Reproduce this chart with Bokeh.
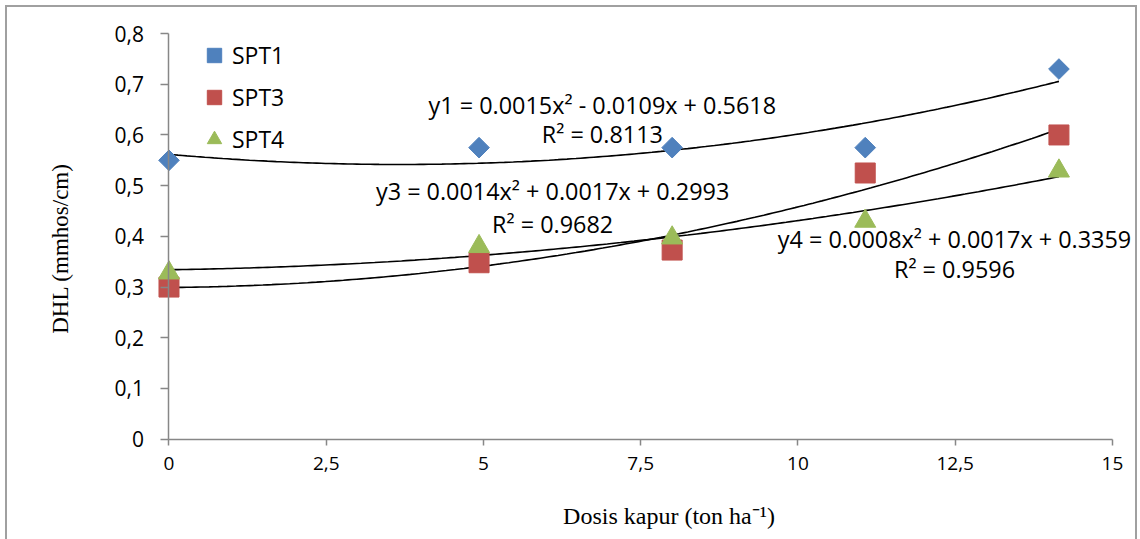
import numpy as np
from bokeh.plotting import figure
from bokeh.models import (Range1d, FixedTicker, CustomJSTickFormatter, Label,
                          Legend, LegendItem)
from bokeh.embed import file_html
from bokeh.resources import INLINE

# ---- data ----
dosis = [0, 4.93, 8.0, 11.07, 14.15]
spt1 = [0.55, 0.575, 0.575, 0.575, 0.73]
spt3 = [0.30, 0.348, 0.373, 0.525, 0.60]
spt4 = [0.328, 0.38, 0.397, 0.43, 0.529]
x_ticks = [0, 2.5, 5, 7.5, 10, 12.5, 15]
y_ticks = [0, 0.1, 0.2, 0.3, 0.4, 0.5, 0.6, 0.7, 0.8]
eq1 = ["y1 = 0.0015x\u00b2 - 0.0109x + 0.5618", "R\u00b2 = 0.8113"]
eq3 = ["y3 = 0.0014x\u00b2 + 0.0017x + 0.2993", "R\u00b2 = 0.9682"]
eq4 = ["y4 = 0.0008x\u00b2 + 0.0017x + 0.3359", "R\u00b2 = 0.9596"]
x_title = "Dosis kapur (ton ha\u207b\u00b9)"
y_title = "DHL (mmhos/cm)"

SANS = "Open Sans"
SERIF = "Liberation Serif"
AXIS_GRAY = "#878787"
FRAME_GRAY = "#a0a0a0"

p = figure(width=1132, height=534, output_backend="svg", toolbar_location=None,
           x_range=Range1d(-2.202, 15.415), y_range=Range1d(-0.184, 0.8198),
           min_border_left=23, min_border_right=1, min_border_top=16,
           min_border_bottom=9)
p.margin = (5, 0, 0, 5)
p.outline_line_color = None
p.xgrid.visible = False
p.ygrid.visible = False
p.background_fill_color = "white"
p.border_fill_color = "white"
p.styles = {"border-top": f"2px solid {FRAME_GRAY}",
            "border-left": f"2px solid {FRAME_GRAY}",
            "border-right": f"2px solid {FRAME_GRAY}",
            "box-sizing": "border-box"}

fmt = CustomJSTickFormatter(code="return tick.toFixed(1).replace('.', ',').replace(/,0$/, '');")

for ax in (p.xaxis[0], p.yaxis[0]):
    ax.formatter = fmt
    ax.axis_line_color = AXIS_GRAY
    ax.axis_line_width = 1.5
    ax.major_tick_line_color = AXIS_GRAY
    ax.major_tick_line_width = 1.5
    ax.minor_tick_line_color = None
    ax.major_tick_in = 0
    ax.major_label_text_font = SANS
    ax.major_label_text_color = "#000000"

p.xaxis[0].ticker = FixedTicker(ticks=x_ticks)
p.yaxis[0].ticker = FixedTicker(ticks=y_ticks)
p.xaxis[0].bounds = (0, 15)
p.yaxis[0].bounds = (0, 0.8)
p.xaxis[0].fixed_location = 0
p.yaxis[0].fixed_location = 0
p.xaxis[0].major_tick_out = 6
p.yaxis[0].major_tick_out = 8
p.xaxis[0].major_label_standoff = 12
p.yaxis[0].major_label_standoff = 17
p.xaxis[0].major_label_text_font_size = "19px"
p.yaxis[0].major_label_text_font_size = "21px"

# trendlines (quadratic least-squares fits of each series)
xs = np.linspace(0, max(dosis), 200)
for ys in (spt1, spt3, spt4):
    c = np.polyfit(dosis, ys, 2)
    p.line(xs, np.polyval(c, xs), line_color="black", line_width=1.6)

r1 = p.scatter(dosis, spt1, marker="square", size=14.6, angle=np.pi / 4,
               fill_color="#4F81BD", line_color="#4F81BD")
r3 = p.scatter(dosis, spt3, marker="square", size=20,
               fill_color="#C0504D", line_color="#C0504D")
r4 = p.scatter(dosis, spt4, marker="triangle", size=21,
               fill_color="#9BBB59", line_color="#9BBB59")

legend = Legend(items=[LegendItem(label="SPT1", renderers=[r1]),
                       LegendItem(label="SPT3", renderers=[r3]),
                       LegendItem(label="SPT4", renderers=[r4])],
                location=(166, 373), orientation="vertical",
                glyph_width=36, glyph_height=40, label_standoff=0, spacing=2,
                padding=0, margin=0, border_line_color=None,
                background_fill_alpha=0, label_text_font=SANS,
                label_text_font_size="23px", label_text_color="#000000")
p.add_layout(legend)

def eq_label(x, y, txt):
    p.add_layout(Label(x=x, y=y, text=txt, text_align="center",
                       text_baseline="middle", text_font=SANS,
                       text_font_size="23.4px", text_color="#000000"))

eq_label(6.89, 0.659, eq1[0])
eq_label(6.89, 0.602, eq1[1])
eq_label(6.10, 0.489, eq3[0])
eq_label(6.10, 0.424, eq3[1])
eq_label(12.49, 0.394, eq4[0])
eq_label(12.49, 0.335, eq4[1])

p.add_layout(Label(x=7.95, y=-0.152, text=x_title, text_align="center",
                   text_baseline="middle", text_font=SERIF,
                   text_font_size="24px", text_color="#000000"))
p.add_layout(Label(x=-1.72, y=0.376, text=y_title, angle=np.pi / 2,
                   text_align="center", text_baseline="middle",
                   text_font=SERIF, text_font_size="23px",
                   text_color="#000000"))

open("out.html", "w").write(file_html(p, INLINE))
